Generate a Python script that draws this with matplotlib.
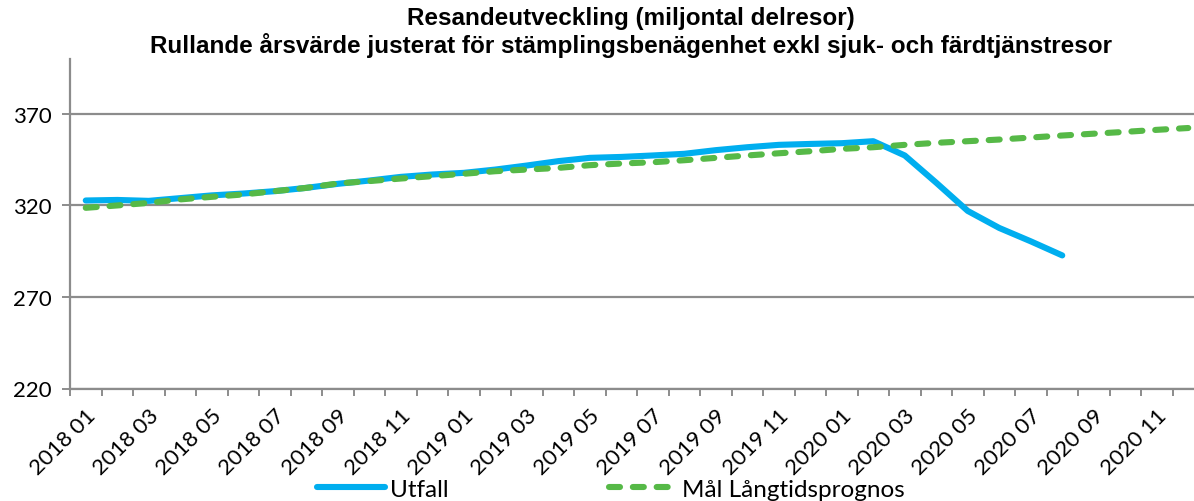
import matplotlib
matplotlib.use("Agg")
import matplotlib.pyplot as plt
from matplotlib.ticker import FixedLocator

months = ["2018 01", "2018 02", "2018 03", "2018 04", "2018 05", "2018 06",
          "2018 07", "2018 08", "2018 09", "2018 10", "2018 11", "2018 12",
          "2019 01", "2019 02", "2019 03", "2019 04", "2019 05", "2019 06",
          "2019 07", "2019 08", "2019 09", "2019 10", "2019 11", "2019 12",
          "2020 01", "2020 02", "2020 03", "2020 04", "2020 05", "2020 06",
          "2020 07", "2020 08", "2020 09", "2020 10", "2020 11", "2020 12"]

utfall = [322.7, 323.0, 322.5, 324.0, 325.5, 326.5, 327.8, 329.6, 331.8, 333.6,
          335.6, 336.9, 337.8, 339.6, 341.8, 344.2, 346.0, 346.5, 347.3, 348.2,
          350.2, 351.8, 353.1, 353.6, 354.0, 355.1, 347.3, 332.4, 317.0, 307.7,
          300.4, 292.7]

mal = [318.7, 320.0, 321.4, 323.3, 324.7, 326.0, 327.8, 329.6, 332.0, 333.3,
       334.7, 336.0, 337.3, 338.7, 339.6, 340.5, 342.0, 342.9, 343.6, 344.7,
       346.0, 347.3, 348.5, 349.6, 350.9, 351.8, 353.1, 354.2, 355.1, 356.0,
       357.1, 358.2, 359.2, 360.2, 361.3, 362.3]

yticks = [220, 270, 320, 370]

title1 = "Resandeutveckling (miljontal delresor)"
title2 = "Rullande årsvärde justerat för stämplingsbenägenhet exkl sjuk- och färdtjänstresor"

W, H = 1194, 502
fig = plt.figure(figsize=(W / 100, H / 100), dpi=100)
ax = fig.add_axes([70 / W, 1 - 389.5 / H, (1204 - 70) / W, (389.5 - 60) / H])

grid_c = "#8c8c8c"
blue = "#00AEEF"
green = "#56B947"

x_u = list(range(len(utfall)))
x_m = list(range(len(mal)))
ax.plot(x_u, utfall, color=blue, lw=4.4, solid_capstyle="round",
        solid_joinstyle="round", zorder=3, label="Utfall")
ax.plot(x_m, mal, color=green, lw=4.4, dashes=(1.8, 2.1), dash_capstyle="round",
        zorder=4, label="Mål Långtidsprognos")

ax.set_xlim(-0.5, len(months) - 0.5)
ax.set_ylim(220, 400)

ax.set_yticks(yticks)
ax.yaxis.grid(True, color=grid_c, lw=1.6)
ax.set_axisbelow(True)

ax.set_xticks(list(range(0, len(months), 2)))
ax.set_xticklabels(months[::2], rotation=45, ha="right", rotation_mode="anchor",
                   family="Lato", fontsize=16)
ax.xaxis.set_minor_locator(FixedLocator([i - 0.5 for i in range(len(months) + 1)]))
ax.tick_params(axis="x", which="major", length=0, pad=12)
ax.tick_params(axis="x", which="minor", length=5, width=1.4, color=grid_c)
ax.tick_params(axis="y", length=6, width=1.4, color=grid_c, pad=7)
for lab in ax.get_yticklabels():
    lab.set_family("Lato")
    lab.set_fontsize(16)

for s in ["top", "right"]:
    ax.spines[s].set_visible(False)
for s in ["left", "bottom"]:
    ax.spines[s].set_color(grid_c)
    ax.spines[s].set_linewidth(1.6)

fig.text(631 / W, 1 - 18 / H, title1, ha="center", va="center",
         family="Liberation Sans", fontweight="bold", fontsize=17.5)
fig.text(631 / W, 1 - 46 / H, title2, ha="center", va="center",
         family="Liberation Sans", fontweight="bold", fontsize=17.5)

leg = fig.legend(loc="center", bbox_to_anchor=(611 / W, 1 - 490 / H), ncol=2,
                 frameon=False, prop={"family": "Lato", "size": 17.5},
                 handlelength=2.8, columnspacing=6.6, handletextpad=0.2,
                 borderaxespad=0, borderpad=0)

fig.savefig("out.png", dpi=100)
